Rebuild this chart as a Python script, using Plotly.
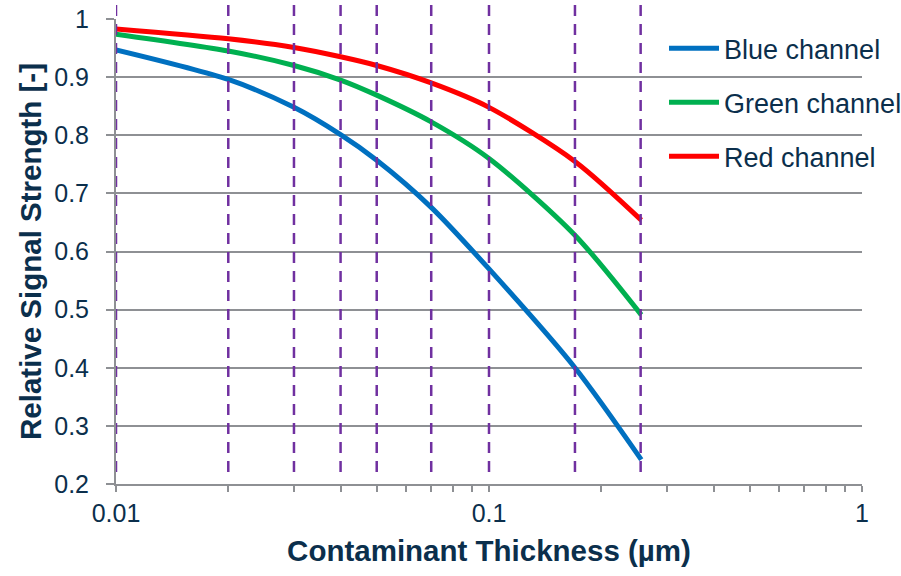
import plotly.graph_objects as go

# ---- data ----
thickness_um = [0.01, 0.02, 0.03, 0.04, 0.05, 0.07, 0.1, 0.17, 0.256]
blue_channel = [0.947, 0.896, 0.848, 0.801, 0.757, 0.676, 0.570, 0.400, 0.242]
green_channel = [0.974, 0.945, 0.920, 0.895, 0.869, 0.823, 0.760, 0.628, 0.491]
red_channel = [0.983, 0.966, 0.951, 0.935, 0.920, 0.890, 0.848, 0.755, 0.654]
guide_x = [0.01, 0.02, 0.03, 0.04, 0.05, 0.07, 0.1, 0.17, 0.255]

x_tick_vals = [m * d for d in (0.01, 0.1) for m in range(1, 10)] + [1]
x_tick_text = ["0.01"] + [""] * 8 + ["0.1"] + [""] * 8 + ["1"]
y_tick_vals = [0.2, 0.3, 0.4, 0.5, 0.6, 0.7, 0.8, 0.9, 1.0]
y_tick_text = ["0.2", "0.3", "0.4", "0.5", "0.6", "0.7", "0.8", "0.9", "1"]

series = [
    ("Blue channel", blue_channel, "#0070C0"),
    ("Green channel", green_channel, "#00B050"),
    ("Red channel", red_channel, "#FF0000"),
]

TXT = "#0b2f4c"
GRID = "#8e9094"
FONT = "Liberation Sans, Arial, sans-serif"

fig = go.Figure()
for name, vals, col in series:
    fig.add_trace(go.Scatter(
        x=thickness_um, y=vals, name=name, mode="lines",
        line=dict(color=col, width=5, shape="spline", smoothing=0.8),
        legendgroup=name,
    ))

for gx in guide_x:
    fig.add_shape(type="line", xref="x", yref="paper",
                  x0=gx, x1=gx, y0=1.030, y1=0.0215,
                  line=dict(color="#7030A0", width=2.5, dash="11px,8px"),
                  layer="above")

fig.update_layout(
    width=901, height=576,
    margin=dict(l=116, r=39, t=19, b=92, autoexpand=False),
    paper_bgcolor="white", plot_bgcolor="white",
    font=dict(family=FONT, color=TXT, size=25),
    showlegend=True,
    legend=dict(x=0.7346, y=0.989, xanchor="left", yanchor="top",
                font=dict(size=27, color=TXT, family=FONT),
                bgcolor="rgba(0,0,0,0)", tracegroupgap=16,
                itemwidth=50),
    xaxis=dict(
        type="log", range=[-2, 0], automargin=False,
        tickvals=x_tick_vals, ticktext=x_tick_text,
        ticks="outside", ticklen=6, tickwidth=2, tickcolor=GRID,
        showline=True, linecolor=GRID, linewidth=2,
        showgrid=False, zeroline=False,
        tickfont=dict(size=25, color=TXT, family=FONT),
        title=dict(text="<b>Contaminant Thickness (µm)</b>",
                   font=dict(size=29.5, color=TXT, family=FONT), standoff=14),
    ),
    yaxis=dict(
        range=[0.2, 1.0], automargin=False,
        tickvals=y_tick_vals, ticktext=y_tick_text,
        ticks="outside", ticklen=8, tickwidth=2, tickcolor=GRID,
        showline=True, linecolor=GRID, linewidth=2,
        showgrid=True, gridcolor=GRID, gridwidth=2,
        zeroline=False, ticklabelstandoff=12,
        tickfont=dict(size=25, color=TXT, family=FONT),
        title=dict(text="<b>Relative Signal Strength [-]</b>",
                   font=dict(size=29.5, color=TXT, family=FONT), standoff=4),
    ),
)

fig.write_html("out.html")
